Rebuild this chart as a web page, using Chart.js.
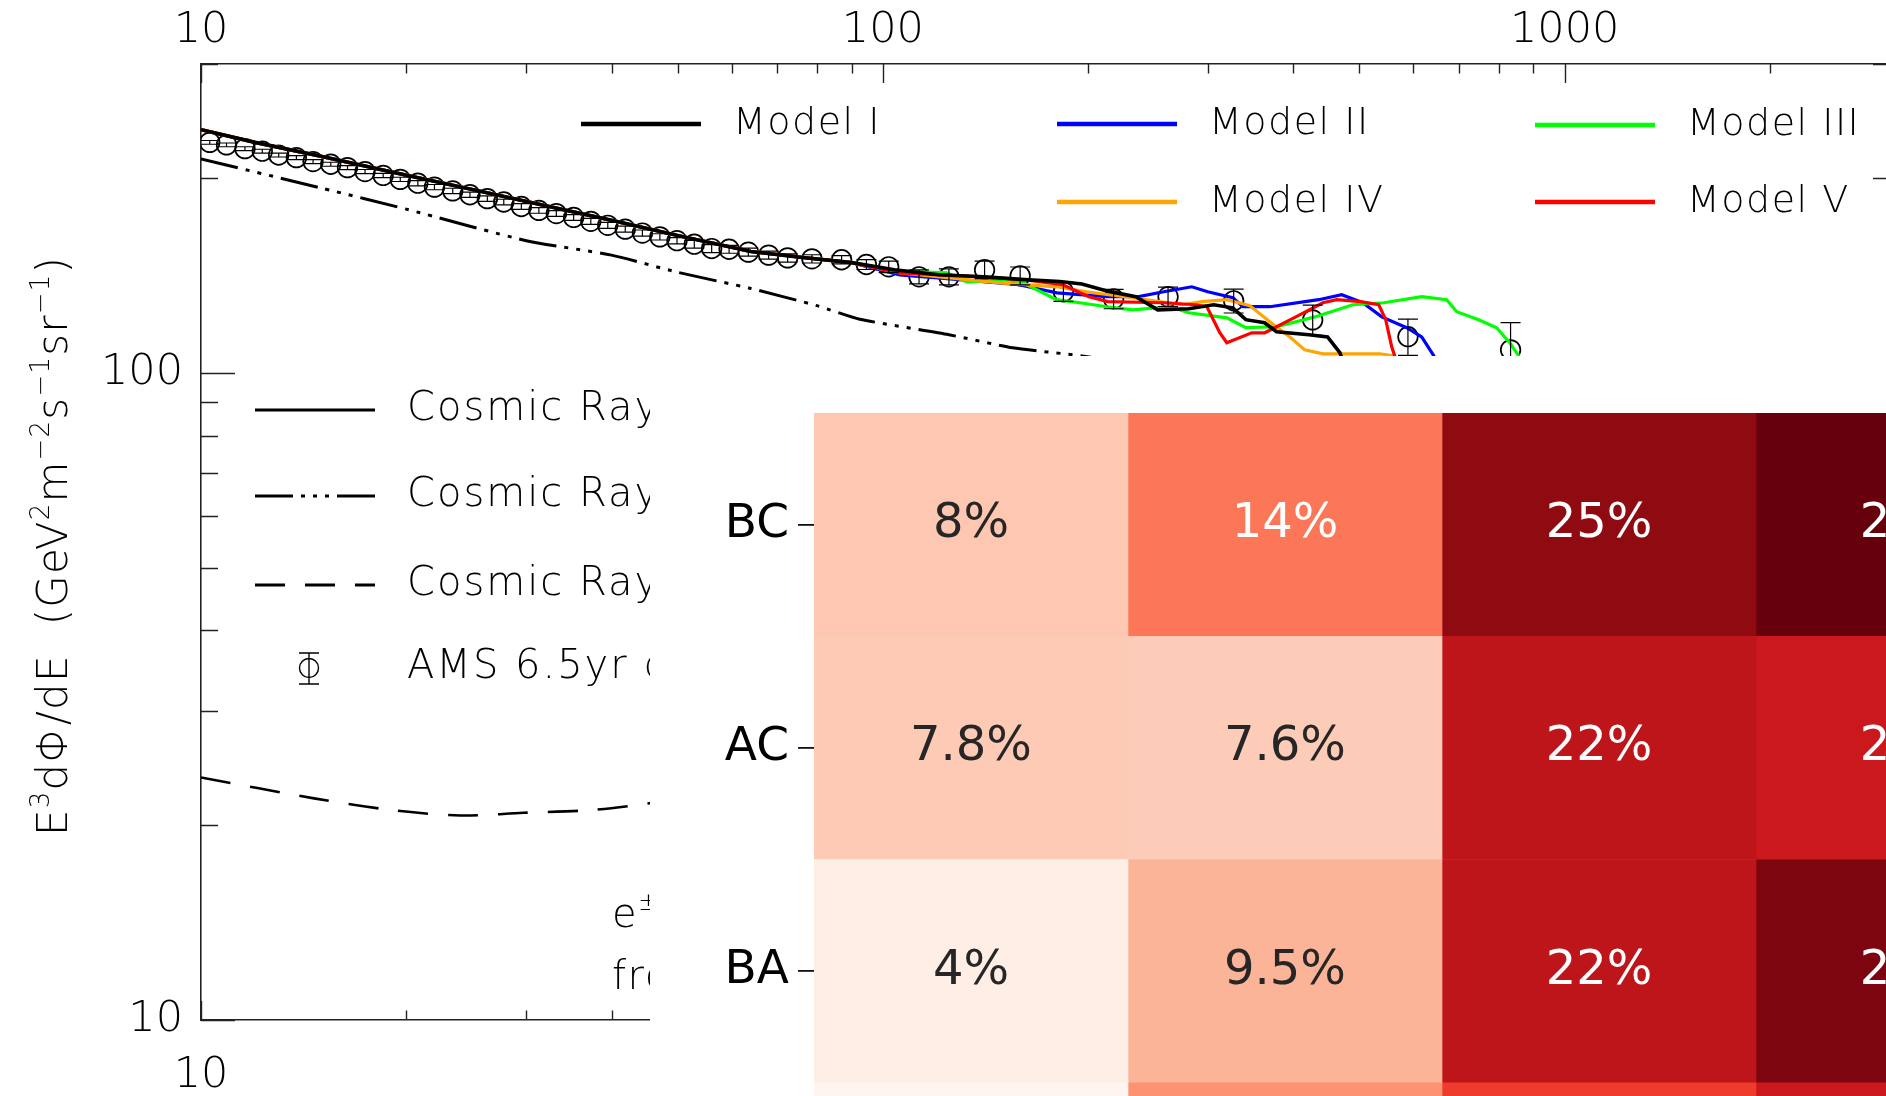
<!DOCTYPE html>
<html>
<head>
<meta charset="utf-8">
<script src="https://cdn.jsdelivr.net/npm/chart.js@4.4.0/dist/chart.umd.min.js"></script>
<style>
  html, body { margin: 0; padding: 0; background: #fff; overflow: hidden; }
  body { width: 1886px; height: 1096px; position: relative; }
  #spectrum { position: absolute; left: 0; top: 0; }
  #shares { position: absolute; left: 650px; top: 356px; background: #fff; }
</style>
</head>
<body>
<canvas id="spectrum" width="1922" height="1096"></canvas>
<canvas id="shares" width="1420" height="995"></canvas>
<script>
// ---- spectrum axes ----
const energyTicks = [10, 20, 30, 40, 50, 60, 70, 80, 90, 100, 200, 300, 400, 500, 600, 700, 800, 900, 1000, 2000, 3000];
const energyLabels = [10, 100, 1000];
const fluxTicks = [10, 20, 30, 40, 50, 60, 70, 80, 90, 100, 200, 300];
const fluxLabels = [10, 100];

// below ~100 GeV the five models lie on top of each other
const lowEnergy = [10, 12, 15, 20, 25, 30, 40, 50, 64, 75, 90];
const lowFlux = [237.5, 227, 216, 202, 192, 184, 172, 163, 154, 151, 148];

const model1Energy = [104, 120.8, 140.7, 163.5, 181.8, 195.8, 214.5, 235, 253, 281, 305.7, 326, 340.7, 363, 378, 421.5, 449, 468, 484];
const model1Flux = [144.3, 141.7, 140.7, 139.2, 138.4, 137.2, 133.6, 131.1, 125.1, 125.6, 127.4, 126.0, 120.8, 119.5, 115.7, 114.5, 113.6, 107.4, 97.5];

const model2Energy = [105.9, 131, 158.3, 180, 213, 237.3, 258.2, 283.9, 299.6, 326.1, 337.3, 369.4, 435.8, 470.9, 505.7, 539.2, 586.6, 617, 638.4, 660];
const model2Flux = [141.7, 139.2, 136.8, 132.9, 131.1, 131.1, 133.4, 135.8, 133.4, 130.6, 126.5, 126.5, 129.7, 132.0, 128.3, 122.0, 117.4, 113.6, 107.4, 101.5];

const model3Energy = [105.9, 124.1, 132.8, 153.6, 160.4, 179.9, 194.5, 213, 232.6, 263.5, 281, 319.5, 340.7, 378.3, 430.1, 488.9, 542.8, 617.2, 671.4, 694.4, 747.9, 794.8, 830.5, 856.2, 873];
const model3Flux = [143.6, 142.7, 138.2, 139.2, 137.7, 129.7, 128.3, 126.5, 125.1, 126.5, 123.8, 121.6, 117.4, 117.8, 122.0, 127.4, 128.3, 131.1, 129.7, 124.3, 120.8, 117.4, 111.3, 106.2, 100.4];

const model4Energy = [105.9, 125.4, 148.4, 180, 199.1, 232.6, 275.4, 293.6, 319.5, 345.3, 369.4, 395.3, 415.7, 441.9, 535.5, 563.3, 582.7];
const model4Flux = [142.7, 140.2, 137.7, 135.8, 133.4, 130.6, 127.4, 128.8, 129.7, 127.0, 119.9, 113.6, 108.5, 107.0, 107.0, 106.2, 99.3];

const model5Energy = [105.9, 139.7, 162, 183.6, 200.5, 213.8, 258.2, 287.7, 298.7, 312, 319.5, 347.6, 363.2, 403.4, 441.9, 463.3, 502.3, 533.7, 546.4, 557.6, 563.3, 569];
const model5Flux = [142.7, 140.7, 139.2, 136.8, 131.1, 128.8, 128.3, 127.4, 126.5, 115.3, 111.3, 115.3, 115.3, 122.0, 128.3, 129.7, 128.8, 127.4, 120.8, 109.7, 106.2, 101.1];

// cosmic-ray background curves
const dashDotEnergy = [10, 15, 20, 30, 40, 50, 64, 80, 92.5, 125, 155, 196, 250, 300];
const dashDotFlux = [214, 193, 179, 160, 152, 143, 135, 127, 121, 114.5, 109.3, 106.2, 102, 98];
const dashedEnergy = [10, 14.65, 19.07, 24, 29.7, 37.3, 45.2, 60];
const dashedFlux = [23.7, 22.0, 21.1, 20.7, 20.9, 21.1, 21.6, 22.6];

// AMS 6.5 yr measurement
const amsEnergy = [10.3, 10.9, 11.6, 12.3, 13.0, 13.8, 14.6, 15.5, 16.4, 17.4, 18.5, 19.6, 20.8, 22.0, 23.4, 24.8, 26.3, 27.8, 29.5, 31.3, 33.2, 35.2, 37.3, 39.5, 41.9, 44.4, 47.1, 49.9, 52.9, 56.1, 59.5, 63.5, 68.0, 72.5, 78.7, 87.0, 94.6, 102, 113, 125, 141, 159, 184, 218, 262, 327, 427, 589, 833];
const amsFlux = [227, 225, 222, 220, 217, 215, 212, 210, 207.5, 204.6, 201.8, 199, 196.3, 193.6, 191, 188.4, 185.8, 183.6, 180.7, 178.2, 176.2, 173.8, 171.4, 169, 166.7, 164.4, 162.2, 160, 158, 155.6, 155.2, 153.6, 152, 150.5, 150, 149.5, 147, 145.8, 140.7, 140.7, 144.3, 141.2, 133.4, 130.1, 131.1, 129.2, 120.7, 113.7, 108.5];
const amsError = [1.5, 1.5, 1.5, 1.5, 1.5, 1.5, 1.5, 1.5, 1.5, 1.5, 1.5, 1.5, 1.8, 1.8, 1.8, 1.8, 1.8, 1.8, 1.8, 1.8, 1.8, 1.8, 1.8, 1.8, 1.8, 1.8, 1.8, 1.8, 2.2, 2.2, 2.2, 2.2, 2.2, 2.2, 2.2, 2.2, 2.6, 3.0, 3.5, 4, 4.5, 4.5, 4.5, 4.5, 4.5, 5.5, 6.5, 7.3, 11];

// ---- share table ----
const pairLabels = ['BC', 'AC', 'BA', 'CA'];
const bandLabels = ['1', '2', '3', '4'];
const bcShares = [8, 14, 25, 27];
const acShares = [7.8, 7.6, 22, 21];
const baShares = [4, 9.5, 22, 26];
const caShares = [3, 12, 18, 21];

const plotFont = '"DejaVu Sans"';
const plotWeight = '200';
const axisColor = '#222';
const inkColor = '#000';

const xy = (xs, ys) => xs.map((x, i) => ({ x, y: ys[i] }));
const isDecade = v => Math.abs(Math.log10(v) - Math.round(Math.log10(v))) < 1e-9;

function modelLine(label, color, energy, flux, width) {
  return {
    label,
    data: xy(lowEnergy.concat(energy), lowFlux.concat(flux)),
    borderColor: color,
    borderWidth: width,
    pointRadius: 0,
    tension: 0,
    fill: false
  };
}

const dashDot = [38, 8, 4, 8, 4, 8, 4, 8];
const dashed = [30, 20];

// inward IDL-style tick marks on all four sides
const inwardTicks = {
  id: 'inwardTicks',
  afterDraw(chart) {
    const { ctx, chartArea: a, scales } = chart;
    ctx.save();
    ctx.strokeStyle = axisColor;
    ctx.lineWidth = 1.4;
    ctx.beginPath();
    energyTicks.forEach(v => {
      const x = Math.round(scales.x.getPixelForValue(v)) + 0.5;
      const len = isDecade(v) ? 19 : 9.5;
      ctx.moveTo(x, a.top); ctx.lineTo(x, a.top + len);
      ctx.moveTo(x, a.bottom); ctx.lineTo(x, a.bottom - len);
    });
    fluxTicks.forEach(v => {
      const y = Math.round(scales.y.getPixelForValue(v)) + 0.5;
      const len = isDecade(v) ? 34 : 17;
      ctx.moveTo(a.left, y); ctx.lineTo(a.left + len, y);
      ctx.moveTo(a.right, y); ctx.lineTo(a.right - len, y);
    });
    ctx.stroke();
    ctx.restore();
  }
};

// vertical error bars of the AMS points
const errorBars = {
  id: 'errorBars',
  afterDatasetsDraw(chart) {
    const { ctx, chartArea: a, scales } = chart;
    ctx.save();
    ctx.beginPath();
    ctx.rect(a.left, a.top, a.right - a.left, a.bottom - a.top);
    ctx.clip();
    ctx.strokeStyle = '#000';
    ctx.lineWidth = 1.2;
    ctx.beginPath();
    amsEnergy.forEach((e, i) => {
      const x = scales.x.getPixelForValue(e);
      const yHi = scales.y.getPixelForValue(amsFlux[i] + amsError[i]);
      const yLo = scales.y.getPixelForValue(amsFlux[i] - amsError[i]);
      ctx.moveTo(x, yHi); ctx.lineTo(x, yLo);
      ctx.moveTo(x - 10, yHi); ctx.lineTo(x + 10, yHi);
      ctx.moveTo(x - 10, yLo); ctx.lineTo(x + 10, yLo);
    });
    ctx.stroke();
    ctx.restore();
  }
};

function drawRich(ctx, parts, x0, baseY, size, spacing, center) {
  const fonts = parts.map(p => `${plotWeight} ${p[1] ? Math.round(size * 0.62) : size}px ${plotFont}`);
  ctx.letterSpacing = spacing + 'px';
  const widths = parts.map((p, i) => { ctx.font = fonts[i]; return ctx.measureText(p[0]).width; });
  const total = widths.reduce((s, w) => s + w, 0);
  let x = center ? x0 - total / 2 : x0;
  ctx.textAlign = 'left';
  ctx.textBaseline = 'alphabetic';
  parts.forEach((p, i) => {
    ctx.font = fonts[i];
    ctx.fillText(p[0], x, p[1] ? baseY - size * 0.42 : baseY);
    x += widths[i];
  });
  ctx.letterSpacing = '0px';
}

function legendLine(ctx, x1, x2, y, color, width, dash) {
  ctx.save();
  ctx.strokeStyle = color;
  ctx.lineWidth = width;
  ctx.setLineDash(dash);
  ctx.beginPath();
  ctx.moveTo(x1, y); ctx.lineTo(x2, y);
  ctx.stroke();
  ctx.restore();
}

const modelSlots = [
  { label: 'Model I', x: 581, y: 124 },
  { label: 'Model II', x: 1057, y: 124 },
  { label: 'Model III', x: 1535, y: 125 },
  { label: 'Model IV', x: 1057, y: 202 },
  { label: 'Model V', x: 1535, y: 202 }
];

const annotations = {
  id: 'annotations',
  afterDraw(chart) {
    const ctx = chart.ctx;
    ctx.save();
    ctx.fillStyle = inkColor;

    // model legend, colours taken from the datasets
    modelSlots.forEach(s => {
      const ds = chart.data.datasets.find(d => d.label === s.label);
      legendLine(ctx, s.x, s.x + 120, s.y, ds.borderColor, 4.5, []);
      ctx.font = `${plotWeight} 38px ${plotFont}`;
      ctx.letterSpacing = '1.5px';
      ctx.textAlign = 'left';
      ctx.textBaseline = 'middle';
      ctx.fillText(s.label, s.x + 152, s.y);
    });

    // background legend
    const rows = [
      { y: 410, dash: [] },
      { y: 496, dash: dashDot },
      { y: 585, dash: dashed }
    ];
    rows.forEach(r => {
      legendLine(ctx, 255, 375, r.y, '#000', 3, r.dash);
      ctx.font = `${plotWeight} 40px ${plotFont}`;
      ctx.letterSpacing = '2px';
      ctx.textBaseline = 'middle';
      ctx.fillText('Cosmic Ray e\u00b1 total', 407, r.y);
    });
    ctx.strokeStyle = '#000';
    ctx.lineWidth = 1.4;
    ctx.beginPath();
    ctx.arc(309, 668, 9.5, 0, Math.PI * 2);
    ctx.moveTo(309, 653); ctx.lineTo(309, 684);
    ctx.moveTo(299, 653); ctx.lineTo(319, 653);
    ctx.moveTo(299, 684); ctx.lineTo(319, 684);
    ctx.stroke();
    ctx.fillText('AMS 6.5yr data', 407, 668);
    ctx.letterSpacing = '0px';

    drawRich(ctx, [['e'], ['\u00b1', true], [' flux']], 612, 927, 40, 1.5, false);
    drawRich(ctx, [['from models']], 612, 989, 40, 1.5, false);

    // rotated flux title
    ctx.translate(67, 546);
    ctx.rotate(-Math.PI / 2);
    drawRich(ctx, [['E'], ['3', true], ['d\u03a6/dE  (GeV'], ['2', true], ['m'], ['\u22122', true], ['s'], ['\u22121', true], ['sr'], ['\u22121', true], [')']], 0, 0, 42, 1.2, true);
    ctx.restore();
  }
};

const tickFont = { family: plotFont, size: 43, weight: plotWeight };
const frame = { display: true, color: axisColor, width: 1.6 };
const noGrid = { display: true, drawOnChartArea: false, drawTicks: false };

new Chart(document.getElementById('spectrum'), {
  type: 'line',
  data: {
    datasets: [
      modelLine('Model I', '#000000', model1Energy, model1Flux, 3.6),
      modelLine('Model V', '#ff0000', model5Energy, model5Flux, 3.2),
      modelLine('Model IV', '#ffa500', model4Energy, model4Flux, 3.2),
      modelLine('Model III', '#00ff00', model3Energy, model3Flux, 3.2),
      modelLine('Model II', '#0000ff', model2Energy, model2Flux, 3.2),
      {
        label: 'AMS 6.5yr data',
        data: xy(amsEnergy, amsFlux),
        showLine: false,
        pointStyle: 'circle',
        pointRadius: 9.8,
        pointBorderWidth: 1.7,
        pointBorderColor: '#000',
        pointBackgroundColor: 'rgba(0,0,0,0)',
        borderColor: '#000'
      },
      {
        label: 'Cosmic Ray',
        data: xy(dashDotEnergy, dashDotFlux),
        borderColor: '#000', borderWidth: 3, borderDash: dashDot, pointRadius: 0, tension: 0.2
      },
      {
        label: 'Cosmic Ray',
        data: xy(dashedEnergy, dashedFlux),
        borderColor: '#000', borderWidth: 2.6, borderDash: dashed, pointRadius: 0, tension: 0.3
      }
    ]
  },
  options: {
    responsive: false,
    devicePixelRatio: 1,
    animation: false,
    events: [],
    layout: { padding: 0 },
    plugins: { legend: { display: false }, tooltip: { enabled: false } },
    scales: {
      x: {
        type: 'logarithmic', position: 'top', min: 10, max: 3000,
        afterBuildTicks: s => { s.ticks = energyTicks.map(v => ({ value: v })); },
        afterFit: s => { s.height = 64; },
        grid: noGrid, border: frame,
        ticks: { autoSkip: false, maxRotation: 0, minRotation: 0, padding: 7, color: inkColor, font: tickFont,
                 callback: v => energyLabels.includes(v) ? String(v) : '' }
      },
      x2: {
        type: 'logarithmic', position: 'bottom', min: 10, max: 3000,
        afterBuildTicks: s => { s.ticks = energyTicks.map(v => ({ value: v })); },
        afterFit: s => { s.height = 76; },
        grid: noGrid, border: frame,
        ticks: { autoSkip: false, maxRotation: 0, minRotation: 0, padding: 30, color: inkColor, font: tickFont,
                 callback: v => energyLabels.includes(v) ? String(v) : '' }
      },
      y: {
        type: 'logarithmic', position: 'left', min: 10, max: 300,
        afterBuildTicks: s => { s.ticks = fluxTicks.map(v => ({ value: v })); },
        afterFit: s => { s.width = 201; },
        grid: noGrid, border: frame,
        ticks: { autoSkip: false, padding: 18, color: inkColor, font: tickFont,
                 callback: v => fluxLabels.includes(v) ? String(v) : '' }
      },
      y2: {
        type: 'logarithmic', position: 'right', min: 10, max: 300,
        afterBuildTicks: s => { s.ticks = fluxTicks.map(v => ({ value: v })); },
        afterFit: s => { s.width = 32; },
        grid: noGrid, border: frame,
        ticks: { display: false }
      }
    }
  },
  plugins: [errorBars, inwardTicks, annotations]
});

// ---- share heatmap ----
const shareRows = [bcShares, acShares, baShares, caShares];
const allShares = shareRows.flat();
const shareMin = Math.min(...allShares);
const shareMax = Math.max(...allShares);
const redsStops = ['#fff5f0', '#fee0d2', '#fcbba1', '#fc9272', '#fb6a4a', '#ef3b2c', '#cb181d', '#a50f15', '#67000d'];

function hexRgb(h) {
  return [1, 3, 5].map(i => parseInt(h.slice(i, i + 2), 16));
}

function redsRgb(v) {
  const t = Math.max(0, Math.min(1, (v - shareMin) / (shareMax - shareMin)));
  const p = t * (redsStops.length - 1);
  const i = Math.min(redsStops.length - 2, Math.floor(p));
  const f = p - i;
  const a = hexRgb(redsStops[i]), b = hexRgb(redsStops[i + 1]);
  return a.map((c, k) => Math.round(c + (b[k] - c) * f));
}

function textOn(v) {
  const lin = redsRgb(v).map(c => {
    c /= 255;
    return c <= 0.04045 ? c / 12.92 : Math.pow((c + 0.055) / 1.055, 2.4);
  });
  const lum = 0.2126 * lin[0] + 0.7152 * lin[1] + 0.0722 * lin[2];
  return lum > 0.408 ? '#262626' : '#ffffff';
}

const cellText = {
  id: 'cellText',
  afterDatasetsDraw(chart) {
    const ctx = chart.ctx;
    ctx.save();
    ctx.font = '48px "DejaVu Sans"';
    ctx.textAlign = 'center';
    ctx.textBaseline = 'middle';
    chart.data.datasets.forEach((ds, j) => {
      chart.getDatasetMeta(j).data.forEach((bar, i) => {
        const v = shareRows[i][j];
        const { x, y, base } = bar.getProps(['x', 'y', 'base'], true);
        ctx.fillStyle = textOn(v);
        ctx.fillText(`${+v.toPrecision(2)}%`, (x + base) / 2, y);
      });
    });
    ctx.restore();
  }
};

new Chart(document.getElementById('shares'), {
  type: 'bar',
  data: {
    labels: pairLabels,
    datasets: bandLabels.map((band, j) => ({
      label: band,
      data: pairLabels.map(() => [j, j + 1]),
      backgroundColor: shareRows.map(r => `rgb(${redsRgb(r[j]).join(',')})`),
      borderWidth: 0,
      barPercentage: 1,
      categoryPercentage: 1,
      grouped: false
    }))
  },
  options: {
    indexAxis: 'y',
    responsive: false,
    devicePixelRatio: 1,
    animation: false,
    events: [],
    layout: { padding: { top: 57, bottom: 45, left: 0, right: 0 } },
    plugins: { legend: { display: false }, tooltip: { enabled: false } },
    scales: {
      x: { type: 'linear', min: 0, max: bandLabels.length, display: false },
      y: {
        type: 'category',
        afterFit: s => { s.width = 164; },
        grid: { display: true, drawOnChartArea: false, drawTicks: true, tickLength: 16, offset: false, color: '#111', lineWidth: 1.8 },
        border: { display: false },
        ticks: { padding: 9, color: '#000', font: { family: '"DejaVu Sans"', size: 47 } }
      }
    }
  },
  plugins: [cellText]
});
</script>
</body>
</html>
